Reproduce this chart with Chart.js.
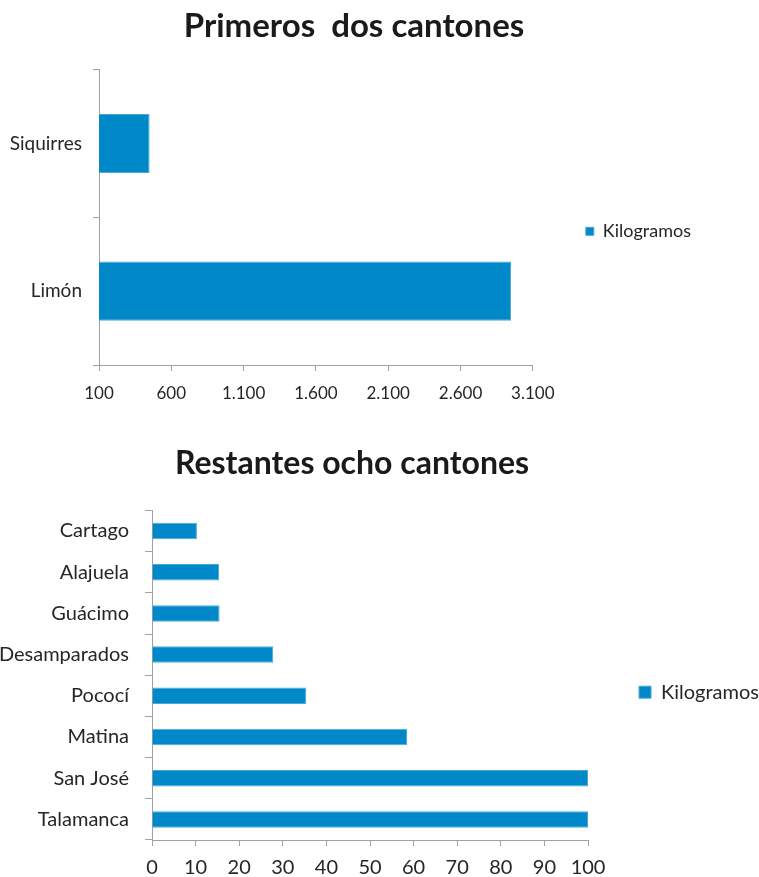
<!DOCTYPE html>
<html>
<head>
<meta charset="utf-8">
<script src="https://cdn.jsdelivr.net/npm/chart.js@4.4.1/dist/chart.umd.min.js"></script>
<style>
  html, body { margin: 0; padding: 0; background: #fff; overflow: hidden; }
  body { width: 759px; height: 877px; position: relative; }
  .box { position: absolute; }
  #boxTop { top: 0; left: 7px; width: 752px; height: 420px; }
  #boxRest { top: 420px; left: -65px; width: 824px; height: 457px; }
</style>
</head>
<body>
<div class="box" id="boxTop"><canvas id="chartTop"></canvas></div>
<div class="box" id="boxRest"><canvas id="chartRest"></canvas></div>
<script>
// data
const topCantones = ['Siquirres', 'Limón'];
const topKilos = [450, 2949];
const topTicks = ['100', '600', '1.100', '1.600', '2.100', '2.600', '3.100'];

const restCantones = ['Cartago', 'Alajuela', 'Guácimo', 'Desamparados', 'Pococí', 'Matina', 'San José', 'Talamanca'];
const restKilos = [10.3, 15.4, 15.5, 27.8, 35.4, 58.5, 100, 100];
const restTicks = ['0', '10', '20', '30', '40', '50', '60', '70', '80', '90', '100'];

const seriesName = 'Kilogramos';
const barColor = '#0088c8';
const axisColor = '#a0a0a0';
const textColor = '#262626';

Chart.defaults.font.family = 'Lato, "Open Sans", sans-serif';
Chart.defaults.color = textColor;
Chart.defaults.animation = false;

//builds one horizontal bar chart
function plotBars(element, cfg) {
  const ctx = document.getElementById(element).getContext('2d');
  return new Chart(ctx, {
    type: 'bar',
    data: {
      labels: cfg.labels,
      datasets: [{
        label: seriesName,
        data: cfg.values,
        backgroundColor: barColor,
        borderColor: '#4aa8d8',
        borderWidth: 1,
        barPercentage: 0.4,
        categoryPercentage: 1
      }]
    },
    options: {
      indexAxis: 'y',
      responsive: true,
      maintainAspectRatio: false,
      layout: { padding: { left: 0, right: cfg.padRight, top: 0, bottom: 0 } },
      scales: {
        x: {
          min: cfg.min,
          max: cfg.max,
          ticks: {
            stepSize: cfg.step,
            autoSkip: false,
            maxRotation: 0,
            padding: cfg.xPad,
            font: { size: cfg.xFont },
            callback: (v, i) => cfg.ticks[i]
          },
          grid: { drawOnChartArea: false, color: axisColor, tickLength: 6 },
          border: { color: axisColor },
          afterFit: s => { s.height = cfg.xHeight; }
        },
        y: {
          ticks: { padding: cfg.yPad, font: { size: cfg.yFont } },
          grid: { drawOnChartArea: false, color: axisColor, tickLength: cfg.yTick },
          border: { color: axisColor },
          afterFit: s => { s.width = cfg.yWidth; }
        }
      },
      plugins: {
        title: {
          display: true,
          text: cfg.title,
          font: { size: cfg.titleFont, weight: 'bold' },
          color: '#1a1a1a',
          padding: { top: cfg.titleTop, bottom: cfg.titleBottom }
        },
        legend: {
          position: 'right',
          fullSize: false,
          title: { display: true, text: '', font: { size: 10 }, padding: cfg.legendShift },
          labels: {
            boxWidth: cfg.legendBox,
            boxHeight: cfg.legendBox,
            padding: cfg.legendPad,
            font: { size: cfg.legendFont },
            color: textColor
          }
        },
        tooltip: { enabled: false }
      }
    }
  });
}

plotBars('chartTop', {
  labels: topCantones, values: topKilos, ticks: topTicks,
  min: 100, max: 3100, step: 500,
  title: 'Primeros  dos cantones', titleFont: 33, titleTop: 7, titleBottom: 23,
  xFont: 17, xPad: 12, xHeight: 55,
  yFont: 19, yPad: 11, yTick: 6, yWidth: 92,
  legendBox: 8, legendFont: 18, legendPad: 53, legendShift: 8, padRight: 58
});

plotBars('chartRest', {
  labels: restCantones, values: restKilos, ticks: restTicks,
  min: 0, max: 100, step: 10,
  title: 'Restantes ocho cantones', titleFont: 32, titleTop: 24, titleBottom: 28,
  xFont: 20, xPad: 10, xHeight: 37,
  yFont: 20, yPad: 16, yTick: 7, yWidth: 217,
  legendBox: 12, legendFont: 20, legendPad: 51, legendShift: 11, padRight: -10
});
</script>
</body>
</html>
